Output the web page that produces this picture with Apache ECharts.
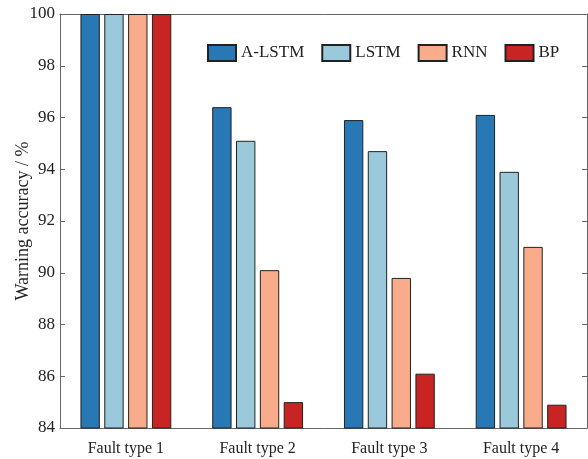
<!DOCTYPE html>
<html>
<head>
<meta charset="utf-8">
<script src="https://cdn.jsdelivr.net/npm/echarts@6/dist/echarts.min.js"></script>
<style>
  html, body { margin: 0; padding: 0; background: #fff; }
  #chart { width: 588px; height: 459px; }
</style>
</head>
<body>
<div id="chart"></div>
<script>
// data
const categories = ['Fault type 1', 'Fault type 2', 'Fault type 3', 'Fault type 4'];
const aLstm = [100, 96.4, 95.9, 96.1];
const lstm = [100, 95.1, 94.7, 93.9];
const rnn = [100, 90.1, 89.8, 91.0];
const bp = [100, 85.0, 86.1, 84.9];

const font = 'Liberation Serif, Times New Roman, serif';
const axisColor = '#666';

function bar(name, data, color) {
  return {
    name: name,
    type: 'bar',
    data: data,
    barWidth: '14.7%',
    barGap: '23%',
    itemStyle: { color: color, borderColor: '#222', borderWidth: 1 }
  };
}

const chart = echarts.init(document.getElementById('chart'));
chart.setOption({
  animation: false,
  textStyle: { fontFamily: font },
  grid: { left: 60, right: 1, top: 14, bottom: 31, containLabel: false, outerBoundsMode: 'none' },
  legend: {
    left: 202,
    top: 39,
    icon: 'rect',
    itemWidth: 28,
    itemHeight: 16,
    itemGap: 17,
    textStyle: { fontFamily: font, fontSize: 17, color: '#222' },
    data: ['A-LSTM', 'LSTM', 'RNN', 'BP']
  },
  xAxis: [
    {
      type: 'category',
      data: categories,
      axisLine: { lineStyle: { color: axisColor } },
      axisTick: { inside: true, alignWithLabel: true, length: 4, lineStyle: { color: axisColor } },
      axisLabel: { fontFamily: font, fontSize: 16, color: '#222', margin: 13 }
    },
    {
      type: 'category',
      position: 'top',
      data: categories,
      axisLine: { lineStyle: { color: axisColor } },
      axisTick: { inside: true, alignWithLabel: true, length: 4, lineStyle: { color: axisColor } },
      axisLabel: { show: false }
    }
  ],
  yAxis: [
    {
      type: 'value',
      min: 84,
      max: 100,
      interval: 2,
      name: 'Warning accuracy / %',
      nameLocation: 'middle',
      nameGap: 28,
      nameMoveOverlap: false,
      nameTextStyle: { fontFamily: font, fontSize: 18, color: '#222' },
      axisLine: { show: true, lineStyle: { color: axisColor } },
      axisTick: { show: true, inside: true, length: 5, lineStyle: { color: axisColor } },
      axisLabel: { fontFamily: font, fontSize: 17, color: '#222', margin: 5 },
      splitLine: { show: false }
    },
    {
      type: 'value',
      position: 'right',
      min: 84,
      max: 100,
      interval: 2,
      axisLine: { show: true, lineStyle: { color: axisColor } },
      axisTick: { show: true, inside: true, length: 5, lineStyle: { color: axisColor } },
      axisLabel: { show: false },
      splitLine: { show: false }
    }
  ],
  series: [
    bar('A-LSTM', aLstm, '#2878b5'),
    bar('LSTM', lstm, '#9ac9db'),
    bar('RNN', rnn, '#f8ac8c'),
    bar('BP', bp, '#c82423')
  ]
});
</script>
</body>
</html>
